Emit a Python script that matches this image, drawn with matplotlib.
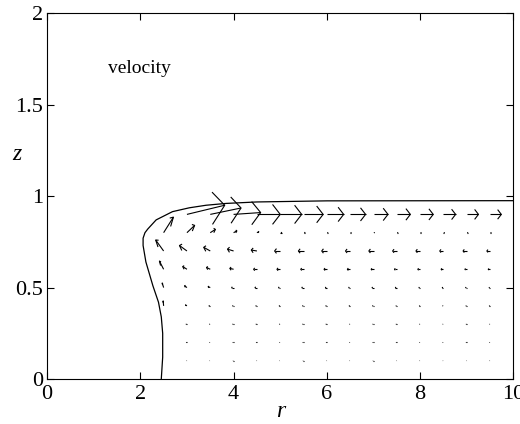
import numpy as np
import matplotlib
matplotlib.use('Agg')
import matplotlib.pyplot as plt
from matplotlib.collections import LineCollection

# ---- data ----
surface_r = [2.45, 2.48, 2.48, 2.45, 2.39, 2.27, 2.12, 2.06, 2.06, 2.10, 2.16,
             2.34, 2.69, 3.05, 3.41, 3.84, 4.5, 6.0, 10.0]
surface_z = [0.0, 0.12, 0.25, 0.34, 0.42, 0.51, 0.64, 0.73, 0.77, 0.80, 0.82,
             0.87, 0.915, 0.936, 0.95, 0.96, 0.968, 0.974, 0.975]

r_cols = [2.5, 3.0, 3.5, 4.0, 4.5, 5.0, 5.5, 6.0, 6.5, 7.0, 7.5, 8.0, 8.5, 9.0, 9.5]
z_rows = [0.1, 0.2, 0.3, 0.4, 0.5, 0.6, 0.7, 0.8, 0.9]
nan = np.nan
# radial velocity component (rows follow z_rows)
U = [
    [nan, -0.005, -0.005, -0.005, -0.005, -0.005, -0.005, -0.005, -0.005, -0.005, -0.005, -0.005, -0.005, -0.005, -0.005],
    [nan, -0.01, -0.01, -0.01, -0.01, -0.01, -0.01, -0.01, -0.01, -0.01, -0.01, -0.01, -0.01, -0.01, -0.01],
    [nan, -0.015, -0.015, -0.015, -0.015, -0.015, -0.015, -0.015, -0.012, -0.012, -0.012, -0.012, -0.01, -0.01, -0.01],
    [-0.01, -0.03, -0.025, -0.02, -0.02, -0.02, -0.02, -0.02, -0.02, -0.02, -0.015, -0.015, -0.015, -0.015, -0.015],
    [-0.03, -0.05, -0.045, -0.04, -0.04, -0.035, -0.035, -0.03, -0.03, -0.03, -0.03, -0.025, -0.025, -0.025, -0.02],
    [-0.09, -0.09, -0.08, -0.08, -0.07, -0.07, -0.06, -0.06, -0.06, -0.05, -0.05, -0.05, -0.05, -0.04, -0.04],
    [-0.17, -0.16, -0.14, -0.13, -0.12, -0.12, -0.11, -0.11, -0.10, -0.10, -0.09, -0.09, -0.08, -0.08, -0.07],
    [0.21, 0.165, 0.11, 0.07, 0.04, 0.03, 0.03, 0.02, 0.02, 0.02, 0.02, 0.02, 0.02, 0.02, 0.02],
    [nan, 0.81, 0.66, 0.58, 0.50, 0.46, 0.42, 0.36, 0.33, 0.31, 0.29, 0.28, 0.26, 0.25, 0.24],
]
# axial velocity component
W = [
    [nan, 0, 0, 0, 0, 0, 0, 0, 0, 0, 0, 0, 0, 0, 0],
    [nan, 0, 0, 0, 0, 0, 0, 0, 0, 0, 0, 0, 0, 0, 0],
    [nan, 0, 0, 0, 0, 0, 0, 0, 0, 0, 0, 0, 0, 0, 0],
    [0.027, 0.005, 0, 0, 0, 0, 0, 0, 0, 0, 0, 0, 0, 0, 0],
    [0.025, 0.01, 0.005, 0, 0, 0, 0, 0, 0, 0, 0, 0, 0, 0, 0],
    [0.045, 0.015, 0.01, 0.005, 0, 0, 0, 0, 0, 0, 0, 0, 0, 0, 0],
    [0.06, 0.03, 0.02, 0.01, 0.005, 0, 0, 0, 0, 0, 0, 0, 0, 0, 0],
    [0.085, 0.04, 0.018, 0.01, 0.005, 0, 0, 0, 0, 0, 0, 0, 0, 0, 0],
    [nan, 0.05, 0.035, 0.01, 0, 0, 0, 0, 0, 0, 0, 0, 0, 0, 0],
]

xticks = [0, 2, 4, 6, 8, 10]
yticks = [0, 0.5, 1, 1.5, 2]
xticklabels = ['0', '2', '4', '6', '8', '10']
yticklabels = ['0', '0.5', '1', '1.5', '2']

# ---- figure ----
plt.rcParams['font.family'] = ['Liberation Serif', 'DejaVu Serif']
fig = plt.figure(figsize=(5.2, 4.24), dpi=100)
ax = fig.add_axes([0.0904, 0.106, 0.897, 0.863])

# MATLAB-style quiver arrows in data coordinates
alpha, beta = 0.33, 0.33
R, Z = np.meshgrid(r_cols, z_rows)
Ua, Wa = np.array(U, float), np.array(W, float)
segs = []
for x, y, u, v in zip(R.ravel(), Z.ravel(), Ua.ravel(), Wa.ravel()):
    if np.isnan(u):
        continue
    segs.append([(x, y), (x + u, y + v)])
    segs.append([(x + u - alpha * (u + beta * v), y + v - alpha * (v - beta * u)),
                 (x + u, y + v),
                 (x + u - alpha * (u - beta * v), y + v - alpha * (v + beta * u))])
ax.add_collection(LineCollection(segs, colors='black', linewidths=0.8))

ax.plot(surface_r, surface_z, color='black', lw=0.9)

ax.text(1.3, 1.70, 'velocity', fontsize=14, va='center', ha='left')

ax.set_xlim(0, 10)
ax.set_ylim(0, 2)
ax.set_xticks(xticks)
ax.set_xticklabels(xticklabels)
ax.set_yticks(yticks)
ax.set_yticklabels(yticklabels)
ax.tick_params(direction='in', top=True, right=True, length=5, width=0.8,
               labelsize=16)
ax.tick_params(axis='y', pad=3)
ax.tick_params(axis='x', pad=4)
for s in ax.spines.values():
    s.set_linewidth(0.8)

ax.set_xlabel('r', fontsize=17, style='italic', va='center')
ax.xaxis.set_label_coords(0.5, -0.088)
ax.set_ylabel('z', fontsize=17, style='italic', rotation=0, va='center', ha='center')
ax.yaxis.set_label_coords(-0.064, 0.615)

fig.savefig('out.png', dpi=100)
